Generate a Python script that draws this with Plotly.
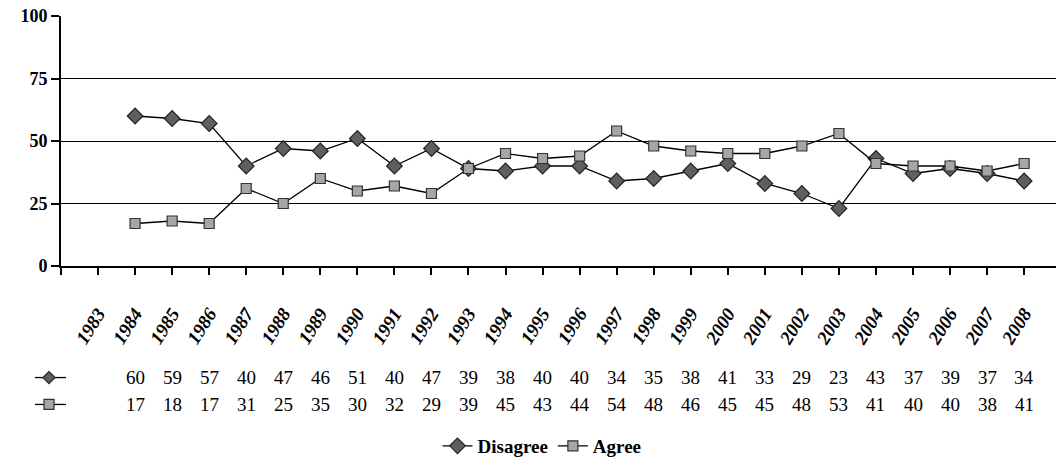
import plotly.graph_objects as go

# Survey years shown on the category axis (1983 has no readings)
years = list(range(1983, 2009))
disagree = [None, 60, 59, 57, 40, 47, 46, 51, 40, 47, 39, 38, 40, 40, 34, 35,
            38, 41, 33, 29, 23, 43, 37, 39, 37, 34]
agree = [None, 17, 18, 17, 31, 25, 35, 30, 32, 29, 39, 45, 43, 44, 54, 48,
         46, 45, 45, 48, 53, 41, 40, 40, 38, 41]
y_ticks = [0, 25, 50, 75, 100]

SERIF = "Liberation Serif"
DIS_FILL = "#5f5f5f"
AGR_FILL = "#a6a6a6"

W, H = 1056, 465
ML, MR, MT, MB = 61, 0, 16, 198
plot_h = H - MT - MB
plot_w = W - ML - MR


def paper_y(px):
    return (H - MB - px) / plot_h


def paper_x(px):
    return (px - ML) / plot_w


fig = go.Figure()

fig.add_trace(go.Scatter(
    x=years, y=disagree, name="Disagree", mode="lines+markers",
    line=dict(color="black", width=1.3),
    marker=dict(symbol="diamond", size=12, color=DIS_FILL,
                line=dict(color="#222222", width=1.2)),
    connectgaps=False,
))
fig.add_trace(go.Scatter(
    x=years, y=agree, name="Agree", mode="lines+markers",
    line=dict(color="black", width=1.3),
    marker=dict(symbol="square", size=10, color=AGR_FILL,
                line=dict(color="#333333", width=1.2)),
    connectgaps=False,
))

# Data table beneath the axis: one row of values per series
annotations = []
rows = [(disagree, 379), (agree, 406)]
for values, py in rows:
    for yr, v in zip(years, values):
        if v is None:
            continue
        annotations.append(dict(
            x=yr, xref="x", y=paper_y(py), yref="paper", text=str(v),
            showarrow=False, xanchor="center", yanchor="middle",
            font=dict(family=SERIF, size=19, color="black"),
        ))

# Series keys at the left of the data table
shapes = []
for (py, sym, fill, edge) in [(379, "diamond", DIS_FILL, "#222222"),
                              (406, "square", AGR_FILL, "#333333")]:
    yp = paper_y(py)
    shapes.append(dict(type="line", xref="paper", yref="paper",
                       x0=paper_x(35), x1=paper_x(66), y0=yp, y1=yp,
                       line=dict(color="black", width=1.3)))
    if sym == "diamond":
        path = "M -6 0 L 0 -6 L 6 0 L 0 6 Z"
    else:
        path = "M -5 -5 L 5 -5 L 5 5 L -5 5 Z"
    shapes.append(dict(type="path", xref="paper", yref="paper",
                       xsizemode="pixel", ysizemode="pixel",
                       xanchor=paper_x(49), yanchor=yp, path=path,
                       fillcolor=fill, line=dict(color=edge, width=1.2)))

tick_years = [1982] + years
tick_text = [""] + [str(y) for y in years]

fig.update_layout(
    width=W, height=H,
    margin=dict(l=ML, r=MR, t=MT, b=MB),
    paper_bgcolor="white", plot_bgcolor="white",
    font=dict(family=SERIF),
    showlegend=True,
    legend=dict(orientation="h", x=paper_x(542), xanchor="center",
                y=paper_y(447), yanchor="middle",
                font=dict(family=SERIF, size=19, color="black", weight="bold"),
                bgcolor="rgba(0,0,0,0)", itemwidth=30),
    annotations=annotations,
    shapes=shapes,
)

fig.update_xaxes(
    range=[1982, 2008.86],
    tickmode="array", tickvals=tick_years, ticktext=tick_text,
    tickangle=-58,
    ticks="outside", ticklen=7, tickwidth=1.5, tickcolor="black",
    showline=True, linecolor="black", linewidth=2,
    showgrid=False, zeroline=False,
    ticklabelstandoff=20,
    tickfont=dict(family=SERIF, size=19, color="black",
                  weight="bold", style="italic"),
)
fig.update_yaxes(
    range=[0, 100],
    tickmode="array", tickvals=y_ticks,
    ticks="outside", ticklen=8, tickwidth=1.5, tickcolor="black",
    showline=True, linecolor="black", linewidth=2,
    showgrid=True, gridcolor="black", gridwidth=1.3,
    zeroline=False,
    tickfont=dict(family=SERIF, size=18, color="black", weight="bold"),
)

fig.write_html("out.html")
